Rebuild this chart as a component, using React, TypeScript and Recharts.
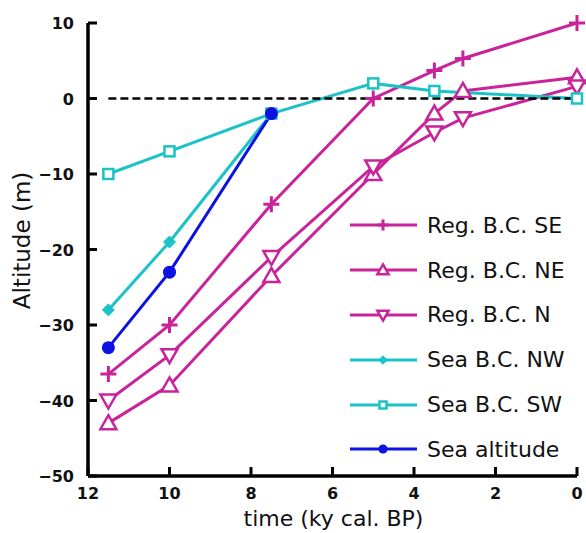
import { Line, LineChart, ReferenceLine, XAxis, YAxis } from 'recharts';

const MAGENTA = '#C9239B';
const CYAN = '#1BC3C8';
const BLUE = '#0B12E2';
const FONT = '"DejaVu Sans", sans-serif';

const xTicks = [0, 2, 4, 6, 8, 10, 12];
const yTicks = [-50, -40, -30, -20, -10, 0, 10];

const regX = [11.5, 10, 7.5, 5, 3.5, 2.8, 0];
const regSE = [-36.5, -30, -14, 0, 3.7, 5.3, 10];
const regNE = [-43, -38, -23.5, -10, -2, 1, 2.8];
const regN = [-40, -34, -21, -9, -4.5, -2.6, 1.6];

const seaNWX = [11.5, 10, 7.5];
const seaNW = [-28, -19, -2];

const seaSWX = [11.5, 10, 7.5, 5, 3.5, 0];
const seaSW = [-10, -7, -2, 2, 1, 0];

const seaAltX = [11.5, 10, 7.5];
const seaAlt = [-33, -23, -2];

const pts = (xs: number[], ys: number[]) => xs.map((x, i) => ({ x, y: ys[i] }));

type Shape = 'plus' | 'up' | 'down' | 'diamond' | 'square' | 'circle';

function Marker({ cx, cy, shape, color, k = 1 }: { cx: number; cy: number; shape: Shape; color: string; k?: number }) {
  if (shape === 'plus')
    return (
      <path d={`M${cx - 8 * k},${cy}H${cx + 8 * k}M${cx},${cy - 8 * k}V${cy + 8 * k}`} stroke={color} strokeWidth={3} fill="none" />
    );
  if (shape === 'up')
    return (
      <path
        d={`M${cx},${cy - 8 * k}L${cx + 8 * k},${cy + 6 * k}L${cx - 8 * k},${cy + 6 * k}Z`}
        stroke={color}
        strokeWidth={2.5}
        fill="#fff"
      />
    );
  if (shape === 'down')
    return (
      <path
        d={`M${cx},${cy + 8 * k}L${cx + 8 * k},${cy - 6 * k}L${cx - 8 * k},${cy - 6 * k}Z`}
        stroke={color}
        strokeWidth={2.5}
        fill="#fff"
      />
    );
  if (shape === 'diamond')
    return <path d={`M${cx},${cy - 6 * k}L${cx + 6 * k},${cy}L${cx},${cy + 6 * k}L${cx - 6 * k},${cy}Z`} fill={color} stroke={color} />;
  if (shape === 'square')
    return <rect x={cx - 5 * k} y={cy - 5 * k} width={10 * k} height={10 * k} stroke={color} strokeWidth={2.5} fill="#fff" />;
  return <circle cx={cx} cy={cy} r={6.5 * k} fill={color} />;
}

const series = [
  { name: 'Reg. B.C. SE', data: pts(regX, regSE), color: MAGENTA, shape: 'plus' as Shape },
  { name: 'Reg. B.C. NE', data: pts(regX, regNE), color: MAGENTA, shape: 'up' as Shape },
  { name: 'Reg. B.C. N', data: pts(regX, regN), color: MAGENTA, shape: 'down' as Shape },
  { name: 'Sea B.C. NW', data: pts(seaNWX, seaNW), color: CYAN, shape: 'diamond' as Shape },
  { name: 'Sea B.C. SW', data: pts(seaSWX, seaSW), color: CYAN, shape: 'square' as Shape },
  { name: 'Sea altitude', data: pts(seaAltX, seaAlt), color: BLUE, shape: 'circle' as Shape },
];

const tickText = { fontFamily: FONT, fontSize: 16, fontWeight: 700, fill: '#111' };
const AXIS = { stroke: '#000', strokeWidth: 3.5 };

function BottomTick({ x, y, payload }: any) {
  return (
    <g>
      <line x1={x} x2={x} y1={y} y2={y - 9} stroke="#000" strokeWidth={3} />
      <text x={x} y={y + 23} textAnchor="middle" {...tickText}>{payload.value}</text>
    </g>
  );
}

function TopTick({ x, y }: any) {
  return <line x1={x} x2={x} y1={y} y2={y + 9} stroke="#000" strokeWidth={3} />;
}

function LeftTick({ x, y, payload }: any) {
  const v = payload.value < 0 ? `\u2212${Math.abs(payload.value)}` : `${payload.value}`;
  return (
    <g>
      <line x1={x} x2={x + 9} y1={y} y2={y} stroke="#000" strokeWidth={3} />
      <text x={x - 14} y={y + 6} textAnchor="end" {...tickText}>{v}</text>
    </g>
  );
}

function RightTick({ x, y }: any) {
  return <line x1={x} x2={x - 9} y1={y} y2={y} stroke="#000" strokeWidth={3} />;
}

function LegendBox() {
  return (
    <div style={{ position: 'absolute', left: 348, top: 203, width: 236, fontFamily: FONT, fontSize: 22, color: '#111' }}>
      {series.map((s) => (
        <div key={s.name} style={{ display: 'flex', alignItems: 'center', height: 44.8 }}>
          <svg width={70} height={24} style={{ marginRight: 9 }}>
            <line x1={2} x2={69} y1={12} y2={12} stroke={s.color} strokeWidth={3} />
            <Marker cx={35} cy={12} shape={s.shape} color={s.color} k={0.7} />
          </svg>
          <span>{s.name}</span>
        </div>
      ))}
    </div>
  );
}

export default function App() {
  return (
    <div style={{ position: 'absolute', left: 0, top: 0, width: 586, height: 533, background: '#fff' }}>
      <LineChart width={586} height={533} margin={{ top: 23, right: 9, bottom: 0, left: 0 }}>
        <XAxis
          xAxisId="b"
          dataKey="x"
          type="number"
          domain={[0, 12]}
          ticks={xTicks}
          reversed
          height={57}
          tickSize={0}
          tickMargin={0}
          tick={<BottomTick />}
          axisLine={AXIS}
          tickLine={false}
          label={({ viewBox }: any) => (
            <text x={viewBox.x + viewBox.width / 2 + 1} y={viewBox.y + 50} textAnchor="middle" fontFamily={FONT} fontSize={22} fill="#111">
              time (ky cal. BP)
            </text>
          )}
        />
        <XAxis
          xAxisId="t"
          type="number"
          orientation="top"
          domain={[0, 12]}
          ticks={xTicks}
          reversed
          height={0}
          tickSize={0}
          tickMargin={0}
          tick={<TopTick />}
          axisLine={AXIS}
          tickLine={false}
        />
        <YAxis
          yAxisId="l"
          type="number"
          domain={[-50, 10]}
          ticks={yTicks}
          width={88}
          tickSize={0}
          tickMargin={0}
          tick={<LeftTick />}
          axisLine={AXIS}
          tickLine={false}
          label={({ viewBox }: any) => {
            const cx = viewBox.x + 30;
            const cy = viewBox.y + viewBox.height / 2 - 9;
            return (
              <text x={cx} y={cy} transform={`rotate(-90 ${cx} ${cy})`} textAnchor="middle" fontFamily={FONT} fontSize={23} fill="#111">
                Altitude (m)
              </text>
            );
          }}
        />
        <YAxis
          yAxisId="r"
          type="number"
          orientation="right"
          domain={[-50, 10]}
          ticks={yTicks}
          width={0}
          tickSize={0}
          tickMargin={0}
          tick={<RightTick />}
          axisLine={AXIS}
          tickLine={false}
        />
        {series.map((s) => (
          <Line
            key={s.name}
            xAxisId="b"
            yAxisId="l"
            data={s.data}
            dataKey="y"
            name={s.name}
            stroke={s.color}
            strokeWidth={3}
            isAnimationActive={false}
            dot={(p: any) => <Marker key={`${s.name}-${p.index}`} cx={p.cx} cy={p.cy} shape={s.shape} color={s.color} />}
            activeDot={false}
          />
        ))}
        <ReferenceLine
          xAxisId="b"
          yAxisId="l"
          segment={[{ x: 11.5, y: 0 }, { x: 0, y: 0 }]}
          stroke="#000"
          strokeWidth={2.5}
          strokeDasharray="8 4"
        />
      </LineChart>
      <LegendBox />
    </div>
  );
}
